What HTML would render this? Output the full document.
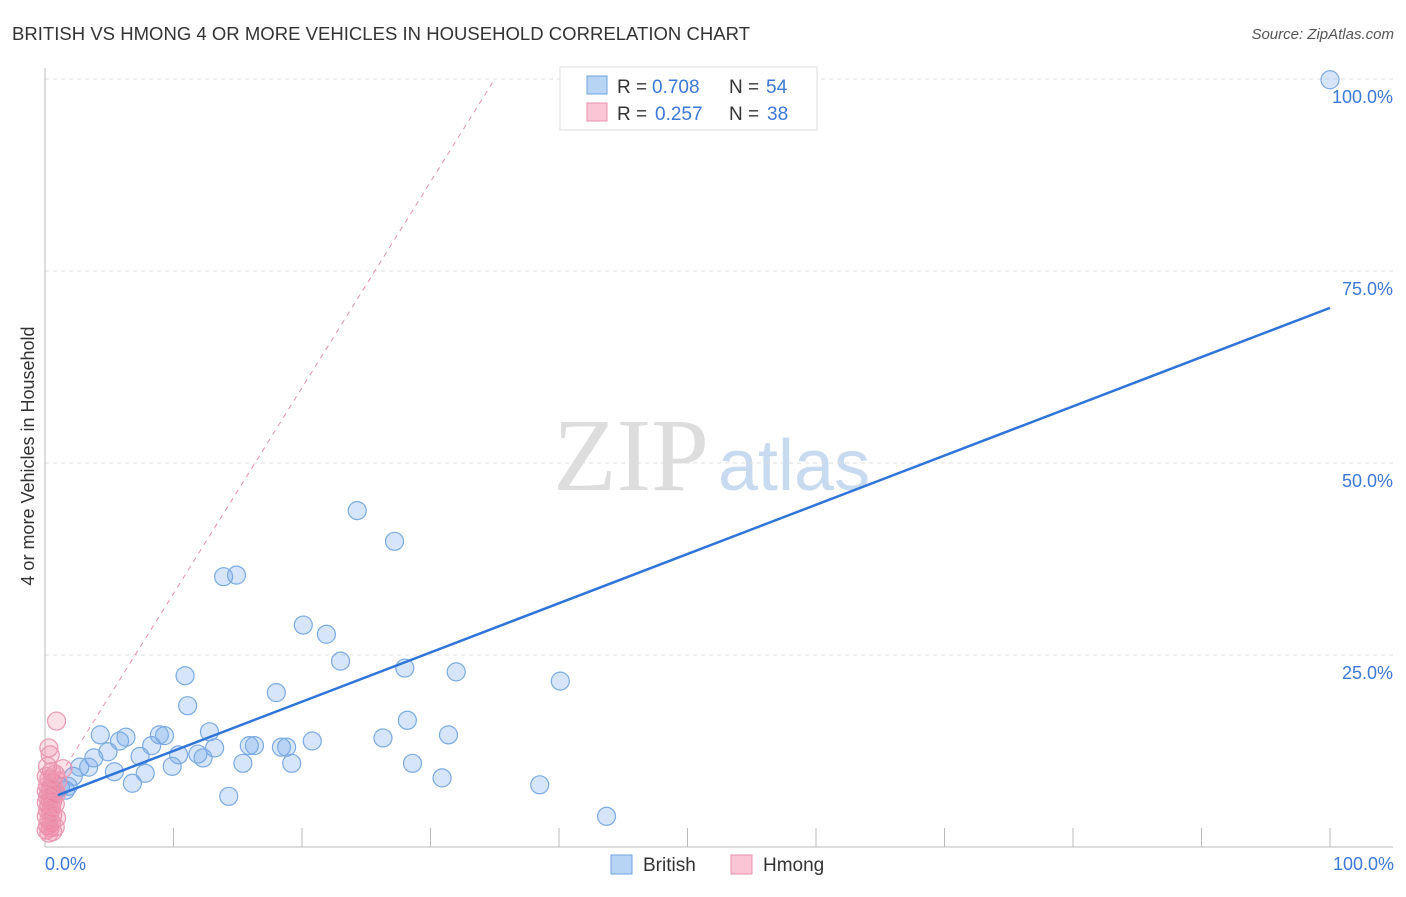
<!DOCTYPE html>
<html><head><meta charset="utf-8"><style>
body{margin:0;background:#fff;font-family:"Liberation Sans",sans-serif}
</style></head><body>
<svg width="1406" height="892" xmlns="http://www.w3.org/2000/svg" font-family="Liberation Sans, sans-serif">
<text x="12" y="40" font-size="18.5" fill="#333" textLength="738">BRITISH VS HMONG 4 OR MORE VEHICLES IN HOUSEHOLD CORRELATION CHART</text>
<text x="1394" y="39" font-size="15" fill="#555" text-anchor="end" font-style="italic">Source: ZipAtlas.com</text>
<text x="553" y="490" font-size="104" fill="#ddd" font-family="Liberation Serif, serif">ZIP</text>
<text x="718" y="490" font-size="72" fill="#c8daf0">atlas</text>
<g id="grid"></g>
<g id="marks"></g>
<text transform="translate(34,456) rotate(-90)" font-size="18" fill="#333" text-anchor="middle">4 or more Vehicles in Household</text>
<text x="45" y="870" font-size="18" fill="#3b78d8">0.0%</text>
<text x="1394" y="870" font-size="18" fill="#3b78d8" text-anchor="end">100.0%</text>
<g>
<rect x="560" y="67" width="257" height="63" fill="#fff" stroke="#ddd"/>
<rect x="587" y="76" width="20" height="18" fill="#b8d4f5" stroke="#6fa3e0"/>
<rect x="587" y="103" width="20" height="18" fill="#fbc5d5" stroke="#e890aa"/>
<text x="617" y="93" font-size="19" fill="#333">R =</text>
<text x="652" y="93" font-size="19" fill="#3b78d8">0.708</text>
<text x="729" y="93" font-size="19" fill="#333">N =</text>
<text x="766" y="93" font-size="19" fill="#3b78d8">54</text>
<text x="617" y="120" font-size="19" fill="#333">R =</text>
<text x="655" y="120" font-size="19" fill="#3b78d8">0.257</text>
<text x="729" y="120" font-size="19" fill="#333">N =</text>
<text x="767" y="120" font-size="19" fill="#3b78d8">38</text>
</g>
<g>
<rect x="611" y="855" width="21" height="19" fill="#b8d4f5" stroke="#6fa3e0"/>
<text x="643" y="871" font-size="19" fill="#333">British</text>
<rect x="731" y="855" width="21" height="19" fill="#fbc5d5" stroke="#e890aa"/>
<text x="763" y="871" font-size="19" fill="#333">Hmong</text>
</g>
</svg>
<script>
const yTicks=[25,50,75,100];
const yTickLabels=["25.0%","50.0%","75.0%","100.0%"];
const xTicks=[10,20,30,40,50,60,70,80,90,100];
const british=[[100,99.9],[24.3,43.8],[27.2,39.8],[13.9,35.2],[14.9,35.4],[20.1,28.9],[21.9,27.7],[23.0,24.2],[10.9,22.3],[28.0,23.3],[32.0,22.8],[40.1,21.6],[18.0,20.1],[11.1,18.4],[28.2,16.5],[31.4,14.6],[26.3,14.2],[12.8,15.0],[4.3,14.6],[6.3,14.3],[8.9,14.6],[9.3,14.5],[5.8,13.8],[8.3,13.2],[13.2,12.9],[15.9,13.2],[16.3,13.2],[18.4,13.0],[18.8,13.0],[20.8,13.8],[4.9,12.4],[3.8,11.6],[7.4,11.8],[10.4,12.0],[11.9,12.1],[12.3,11.6],[2.7,10.4],[3.4,10.4],[15.4,10.9],[19.2,10.9],[9.9,10.5],[28.6,10.9],[5.4,9.8],[7.8,9.6],[2.2,9.2],[30.9,9.0],[6.8,8.3],[38.5,8.1],[14.3,6.6],[43.7,4.0],[1.2,7.8],[1.6,7.4],[0.8,7.2],[1.8,7.9]];
const hmong=[[0.9,16.4],[0.3,12.9],[0.4,12],[1.4,10.2],[0.2,10.5],[0.5,9.8],[0.8,9.5],[0.1,9.2],[0.3,8.8],[0.6,8.5],[1.0,8.6],[0.2,8.0],[0.4,7.8],[0.7,7.6],[0.1,7.3],[0.3,7.0],[0.5,6.8],[0.9,7.0],[0.2,6.5],[0.4,6.2],[0.6,6.0],[0.1,5.8],[0.3,5.5],[0.5,5.2],[0.8,5.6],[0.2,4.8],[0.4,4.5],[0.6,4.2],[0.1,4.0],[0.9,3.8],[0.3,3.5],[0.5,3.2],[0.2,2.8],[0.4,2.5],[0.8,2.6],[0.1,2.2],[0.3,1.8],[0.6,2.0]];
const britishFit=[6.1,70.2];
const hmongFit=[6.2,2.68];
const NS="http://www.w3.org/2000/svg";
function X(v){return 45+v*12.85;}
function Y(v){return 847-v*7.68;}
function mk(tag,at,parent){const e=document.createElementNS(NS,tag);for(const k in at)e.setAttribute(k,at[k]);parent.appendChild(e);return e;}
const grid=document.getElementById('grid'),marks=document.getElementById('marks');
yTicks.forEach((t,i)=>{
 const l=mk('line',{x1:45,x2:1393,y1:Y(t),y2:Y(t),stroke:'#ddd','stroke-dasharray':'4,4'},grid);
 
 
 const tx=mk('text',{x:1393,y:Y(t)+24,'font-size':18,fill:'#3b78d8','text-anchor':'end'},grid);
 tx.textContent=yTickLabels[i];
 
 
});
mk('line',{x1:45,x2:45,y1:68,y2:847,stroke:'#bbb'},grid);
mk('line',{x1:45,x2:1393,y1:847,y2:847,stroke:'#bbb'},grid);
xTicks.forEach(t=>{
 const l=mk('line',{x1:X(t),x2:X(t),y1:828,y2:847,stroke:'#bbb'},grid);
 
 
});
const hx2=(100-hmongFit[0])/hmongFit[1];
const hl=mk('line',{x1:X(0),y1:Y(hmongFit[0]),x2:X(hx2),y2:Y(100),stroke:'#e890aa','stroke-dasharray':'5,5','stroke-width':1},marks);


british.forEach(p=>{
 const c=mk('circle',{cx:X(p[0]),cy:Y(p[1]),r:9,fill:'rgba(120,170,235,0.3)',stroke:'#7aaae2','stroke-width':1.2},marks);
 
 
});
hmong.forEach(p=>{
 const c=mk('circle',{cx:X(p[0]),cy:Y(p[1]),r:9,fill:'rgba(240,130,165,0.25)',stroke:'#ea98b0','stroke-width':1.2},marks);
 
 
});
const bl=mk('line',{x1:X(1),y1:Y(britishFit[0]+(britishFit[1]-britishFit[0])*0.01),x2:X(100),y2:Y(britishFit[1]),stroke:'#2f74d8','stroke-width':2.5},marks);


</script>
</body></html>
